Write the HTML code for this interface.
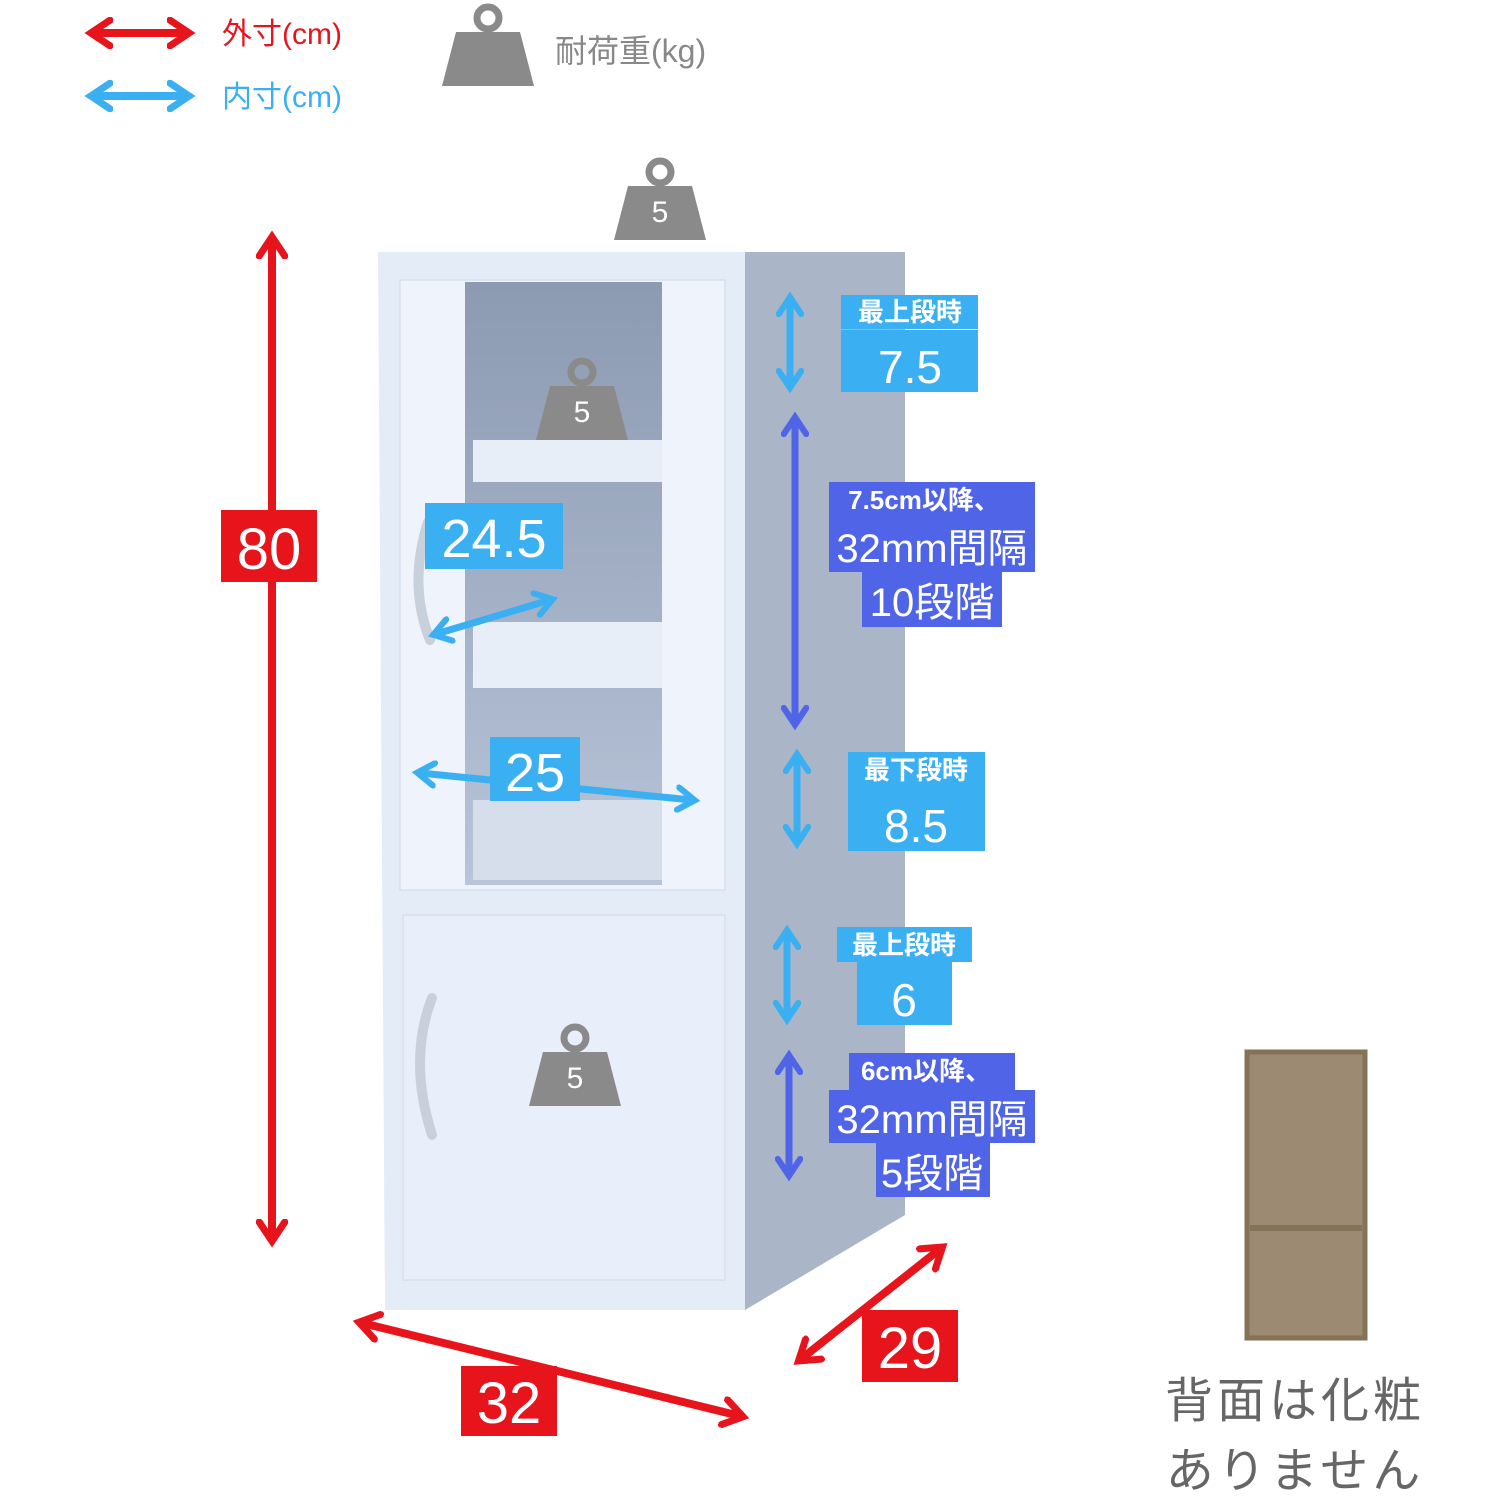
<!DOCTYPE html>
<html><head><meta charset="utf-8"><style>
body{margin:0;background:#fff}
svg text{font-family:"Liberation Sans","Noto Sans CJK JP",sans-serif}
</style></head><body>
<svg width="1496" height="1496" viewBox="0 0 1496 1496" xmlns="http://www.w3.org/2000/svg">
<defs>
<marker id="r" viewBox="0 0 10 10" refX="6" refY="5" markerWidth="4" markerHeight="4" orient="auto-start-reverse"><path d="M1,1 L7,5 L1,9" fill="none" stroke="#e8141c" stroke-width="2.2" stroke-linecap="round"/></marker>
<marker id="b" viewBox="0 0 10 10" refX="6" refY="5" markerWidth="4" markerHeight="4" orient="auto-start-reverse"><path d="M1,1 L7,5 L1,9" fill="none" stroke="#3ab0f2" stroke-width="2.2" stroke-linecap="round"/></marker>
<marker id="p" viewBox="0 0 10 10" refX="6" refY="5" markerWidth="4" markerHeight="4" orient="auto-start-reverse"><path d="M1,1 L7,5 L1,9" fill="none" stroke="#5064e8" stroke-width="2.2" stroke-linecap="round"/></marker>
<linearGradient id="gl" x1="0" y1="0" x2="0" y2="1"><stop offset="0" stop-color="#8c9ab2"/><stop offset="1" stop-color="#b8c4d8"/></linearGradient>
<g id="w"><circle cx="0" cy="-28" r="11" fill="none" stroke="#8a8a8a" stroke-width="7"/><path d="M-32,-14 L32,-14 L46,40 L-46,40 Z" fill="#8a8a8a"/></g>
</defs>
<!-- legend -->
<line x1="94" y1="33" x2="186" y2="33" stroke="#e8141c" stroke-width="8" marker-start="url(#r)" marker-end="url(#r)"/>
<text x="222" y="44" font-size="30" fill="#e8141c">外寸(cm)</text>
<line x1="94" y1="96" x2="186" y2="96" stroke="#3ab0f2" stroke-width="8" marker-start="url(#b)" marker-end="url(#b)"/>
<text x="222" y="107" font-size="30" fill="#3ab0f2">内寸(cm)</text>
<use href="#w" x="488" y="46"/>
<text x="555" y="62" font-size="32" fill="#888">耐荷重(kg)</text>
<!-- cabinet -->
<path d="M745,252 L905,252 L905,1215 L745,1310 Z" fill="#aab5c8"/>
<path d="M378,252 L745,252 L745,1310 L385,1310 Z" fill="#e4ecf8"/>
<rect x="400" y="280" width="325" height="610" fill="#eef3fc" stroke="#cfd8e6"/>
<rect x="465" y="282" width="197" height="603" fill="url(#gl)"/>
<rect x="473" y="440" width="189" height="42" fill="#e8eef8"/>
<rect x="473" y="622" width="189" height="66" fill="#e8eef8"/>
<rect x="473" y="800" width="189" height="80" fill="#d6deec"/>
<rect x="403" y="915" width="322" height="365" fill="#e8effa" stroke="#cfd8e6"/>
<path d="M432,998 Q408,1060 432,1135" fill="none" stroke="#c8d0dc" stroke-width="10" stroke-linecap="round"/>
<path d="M428,522 Q408,585 430,640" fill="none" stroke="#c8d0dc" stroke-width="10" stroke-linecap="round"/>
<use href="#w" x="660" y="200"/><text x="660" y="222" font-size="30" fill="#fff" text-anchor="middle">5</text>
<use href="#w" x="582" y="400"/><text x="582" y="422" font-size="30" fill="#fff" text-anchor="middle">5</text>
<use href="#w" x="575" y="1066"/><text x="575" y="1088" font-size="30" fill="#fff" text-anchor="middle">5</text>
<!-- red dims -->
<line x1="272" y1="240" x2="272" y2="1238" stroke="#e8141c" stroke-width="8" marker-start="url(#r)" marker-end="url(#r)"/>
<rect x="221" y="510" width="96" height="72" fill="#e8141c"/><text x="269" y="569" font-size="58" fill="#fff" text-anchor="middle">80</text>
<line x1="362" y1="1323" x2="740" y2="1416" stroke="#e8141c" stroke-width="8" marker-start="url(#r)" marker-end="url(#r)"/>
<rect x="461" y="1366" width="96" height="70" fill="#e8141c"/><text x="509" y="1423" font-size="58" fill="#fff" text-anchor="middle">32</text>
<line x1="940" y1="1249" x2="801" y2="1359" stroke="#e8141c" stroke-width="8" marker-start="url(#r)" marker-end="url(#r)"/>
<rect x="862" y="1310" width="96" height="72" fill="#e8141c"/><text x="910" y="1368" font-size="58" fill="#fff" text-anchor="middle">29</text>
<!-- blue inner -->
<line x1="436" y1="634" x2="550" y2="600" stroke="#3ab0f2" stroke-width="7" marker-start="url(#b)" marker-end="url(#b)"/>
<rect x="425" y="503" width="138" height="66" fill="#3ab0f2"/><text x="494" y="557" font-size="54" fill="#fff" text-anchor="middle">24.5</text>
<line x1="420" y1="773" x2="692" y2="800" stroke="#3ab0f2" stroke-width="7" marker-start="url(#b)" marker-end="url(#b)"/>
<rect x="490" y="737" width="90" height="64" fill="#3ab0f2"/><text x="535" y="791" font-size="54" fill="#fff" text-anchor="middle">25</text>
<!-- side arrows -->
<line x1="790" y1="300" x2="790" y2="385" stroke="#3ab0f2" stroke-width="7" marker-start="url(#b)" marker-end="url(#b)"/>
<line x1="795" y1="420" x2="795" y2="722" stroke="#5064e8" stroke-width="7" marker-start="url(#p)" marker-end="url(#p)"/>
<line x1="797" y1="757" x2="797" y2="841" stroke="#3ab0f2" stroke-width="7" marker-start="url(#b)" marker-end="url(#b)"/>
<line x1="787" y1="933" x2="787" y2="1017" stroke="#3ab0f2" stroke-width="7" marker-start="url(#b)" marker-end="url(#b)"/>
<line x1="789" y1="1058" x2="789" y2="1173" stroke="#5064e8" stroke-width="7" marker-start="url(#p)" marker-end="url(#p)"/>
<!-- side labels -->
<rect x="841" y="295" width="137" height="34" fill="#3ab0f2"/><text x="910" y="321" font-size="26" font-weight="bold" fill="#fff" text-anchor="middle">最上段時</text>
<rect x="841" y="330" width="137" height="62" fill="#3ab0f2"/><text x="910" y="383" font-size="46" fill="#fff" text-anchor="middle">7.5</text>
<rect x="829" y="482" width="206" height="36" fill="#5064e8"/><text x="924" y="509" font-size="26" font-weight="bold" fill="#fff" text-anchor="middle">7.5cm以降、</text>
<rect x="829" y="518" width="206" height="54" fill="#5064e8"/><text x="932" y="562" font-size="40" fill="#fff" text-anchor="middle">32mm間隔</text>
<rect x="862" y="572" width="140" height="55" fill="#5064e8"/><text x="932" y="616" font-size="40" fill="#fff" text-anchor="middle">10段階</text>
<rect x="848" y="752" width="137" height="35" fill="#3ab0f2"/><text x="916" y="779" font-size="26" font-weight="bold" fill="#fff" text-anchor="middle">最下段時</text>
<rect x="848" y="787" width="137" height="64" fill="#3ab0f2"/><text x="916" y="842" font-size="46" fill="#fff" text-anchor="middle">8.5</text>
<rect x="837" y="927" width="135" height="35" fill="#3ab0f2"/><text x="904" y="954" font-size="26" font-weight="bold" fill="#fff" text-anchor="middle">最上段時</text>
<rect x="857" y="962" width="95" height="63" fill="#3ab0f2"/><text x="904" y="1016" font-size="46" fill="#fff" text-anchor="middle">6</text>
<rect x="849" y="1053" width="166" height="37" fill="#5064e8"/><text x="926" y="1080" font-size="26" font-weight="bold" fill="#fff" text-anchor="middle">6cm以降、</text>
<rect x="829" y="1090" width="206" height="53" fill="#5064e8"/><text x="932" y="1133" font-size="40" fill="#fff" text-anchor="middle">32mm間隔</text>
<rect x="876" y="1143" width="114" height="54" fill="#5064e8"/><text x="932" y="1187" font-size="40" fill="#fff" text-anchor="middle">5段階</text>
<!-- back panel -->
<rect x="1247" y="1052" width="118" height="286" fill="#9c8a72" stroke="#857358" stroke-width="5"/>
<line x1="1250" y1="1228" x2="1362" y2="1228" stroke="#857358" stroke-width="6"/>
<text x="1295" y="1417" font-size="48" fill="#666" text-anchor="middle" letter-spacing="4">背面は化粧</text>
<text x="1295" y="1487" font-size="48" fill="#666" text-anchor="middle" letter-spacing="4">ありません</text>
</svg>
</body></html>
